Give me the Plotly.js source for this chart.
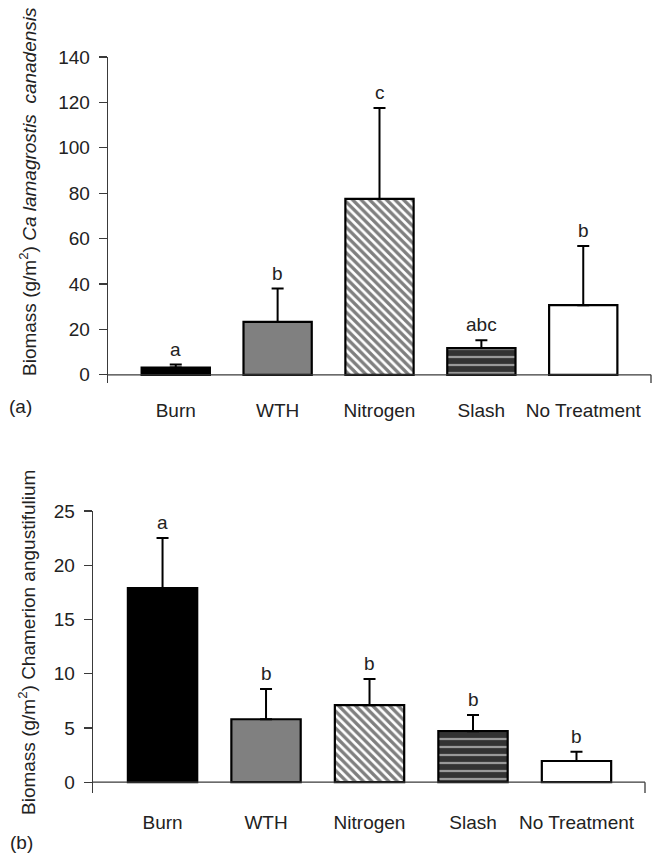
<!DOCTYPE html>
<html>
<head>
<meta charset="utf-8">
<script src="https://cdn.plot.ly/plotly-3.0.1.min.js"></script>
<style>html,body{margin:0;padding:0;background:#fff;}#chart{width:659px;height:865px;}</style>
</head>
<body>
<div id="chart"></div>
<script>
// ---- data ----
var categories = ["Burn", "WTH", "Nitrogen", "Slash", "No Treatment"];
var calamagrostisMean = [3.2, 23.3, 77.5, 11.8, 30.7];
var calamagrostisSE = [1.3, 14.7, 40.0, 3.4, 26.0];
var calamagrostisLetters = ["a", "b", "c", "abc", "b"];
var chamerionMean = [17.9, 5.8, 7.1, 4.7, 1.95];
var chamerionSE = [4.6, 2.8, 2.4, 1.5, 0.85];
var chamerionLetters = ["a", "b", "b", "b", "b"];
var yTicksTop = [0, 20, 40, 60, 80, 100, 120, 140];
var yTicksBottom = [0, 5, 10, 15, 20, 25];

// ---- styles ----
var FONT = "Liberation Sans, Arial, sans-serif";
var FS = 19;
var INK = "#222";
var AX = "#3a3a3a";
var barStyles = [
  {color: "#000000"},
  {color: "#808080"},
  {color: "#ffffff", pattern: {shape: "\\", fgcolor: "#000000", bgcolor: "#ffffff", size: 6, solidity: 0.55, fillmode: "overlay"}},
  {color: "#333333", pattern: {shape: "-", fgcolor: "#ffffff", bgcolor: "#333333", size: 8, solidity: 0.28, fillmode: "overlay"}},
  {color: "#ffffff"}
];

var traces = [];
function addBars(vals, errs, xa, ya){
  for (var i = 0; i < categories.length; i++){
    var m = {color: barStyles[i].color, line: {color: "#000", width: 2.2}};
    if (barStyles[i].pattern) m.pattern = barStyles[i].pattern;
    traces.push({
      type: "bar", x: [categories[i]], y: [vals[i]], xaxis: xa, yaxis: ya,
      width: 0.67, showlegend: false, marker: m,
      error_y: {type: "data", symmetric: false, array: [errs[i]], arrayminus: [0],
                color: "#000", thickness: 2, width: 6}
    });
  }
}
addBars(calamagrostisMean, calamagrostisSE, "x", "y");
addBars(chamerionMean, chamerionSE, "x2", "y2");

var annotations = [];
function addLetters(letters, means, errs, xr, yr){
  for (var i=0;i<letters.length;i++){
    annotations.push({x: categories[i], y: means[i]+errs[i], xref: xr, yref: yr,
      text: letters[i], showarrow: false, yanchor: "bottom", yshift: 3,
      font: {family: FONT, size: FS, color: INK}});
  }
}
addLetters(calamagrostisLetters, calamagrostisMean, calamagrostisSE, "x", "y");
addLetters(chamerionLetters, chamerionMean, chamerionSE, "x2", "y2");

// y titles
annotations.push({xref:"paper", yref:"paper", x: 28/659, y: 1-192/865, textangle: -90,
  text: "Biomass (g/m<sup>2</sup>) <i>Ca lamagrostis  canadensis</i>", showarrow:false,
  xanchor:"center", yanchor:"middle", font:{family:FONT, size:FS, color:INK}});
annotations.push({xref:"paper", yref:"paper", x: 27/659, y: 1-643/865, textangle: -90,
  text: "Biomass (g/m<sup>2</sup>) Chamerion angustifulium", showarrow:false,
  xanchor:"center", yanchor:"middle", font:{family:FONT, size:FS, color:INK}});
// panel labels
annotations.push({xref:"paper", yref:"paper", x: 7/659, y: 1-407/865, text:"(a)", showarrow:false,
  xanchor:"left", yanchor:"middle", font:{family:FONT, size:FS, color:INK}});
annotations.push({xref:"paper", yref:"paper", x: 8/659, y: 1-842/865, text:"(b)", showarrow:false,
  xanchor:"left", yanchor:"middle", font:{family:FONT, size:FS, color:INK}});

var topMin = -3.6, botMin = -1.0;
var shapes = [
  {type:"line", xref:"x domain", yref:"y", x0:0, x1:1, y0:0, y1:0, line:{color:AX, width:1.3}, layer:"above"},
  {type:"line", xref:"x domain", yref:"y", x0:1, x1:1, y0:0, y1:topMin, line:{color:AX, width:1.3}},
  {type:"line", xref:"x2 domain", yref:"y2", x0:0, x1:1, y0:0, y1:0, line:{color:AX, width:1.3}, layer:"above"},
  {type:"line", xref:"x2 domain", yref:"y2", x0:1, x1:1, y0:0, y1:botMin, line:{color:AX, width:1.3}}
];

function xAxis(domain, anchor, range, standoff){
  return {domain: domain, anchor: anchor, range: range, type: "category", categoryorder: "array",
    categoryarray: categories, showline: false, showgrid: false,
    zeroline: false, ticks: "", ticklabelstandoff: standoff, automargin: false,
    tickfont: {family: FONT, size: FS, color: INK}, fixedrange: true};
}
function yAxis(domain, anchor, range, tv){
  return {domain: domain, anchor: anchor, range: range, showline: true, linecolor: AX, linewidth: 1.3,
    showgrid: false, zeroline: false, ticks: "outside", ticklen: 8, tickwidth: 1.3, tickcolor: AX,
    tickvals: tv, ticktext: tv.map(String), ticklabelstandoff: 5, automargin: false,
    tickfont: {family: FONT, size: FS, color: INK}, fixedrange: true};
}

var layout = {
  width: 659, height: 865,
  margin: {l: 0, r: 0, t: 0, b: 0},
  paper_bgcolor: "#fff", plot_bgcolor: "#fff",
  barmode: "overlay",
  xaxis: xAxis([108/659, 651/659], "y", [-0.665, 4.665], 14),
  yaxis: yAxis([1-383/865, 1-57/865], "x", [topMin, 140], yTicksTop),
  xaxis2: xAxis([93/659, 645/659], "y2", [-0.672, 4.662], 16),
  yaxis2: yAxis([1-793/865, 1-511/865], "x2", [botMin, 25], yTicksBottom),
  annotations: annotations,
  shapes: shapes
};

Plotly.newPlot("chart", traces, layout, {displayModeBar: false, staticPlot: true});
</script>
</body>
</html>
